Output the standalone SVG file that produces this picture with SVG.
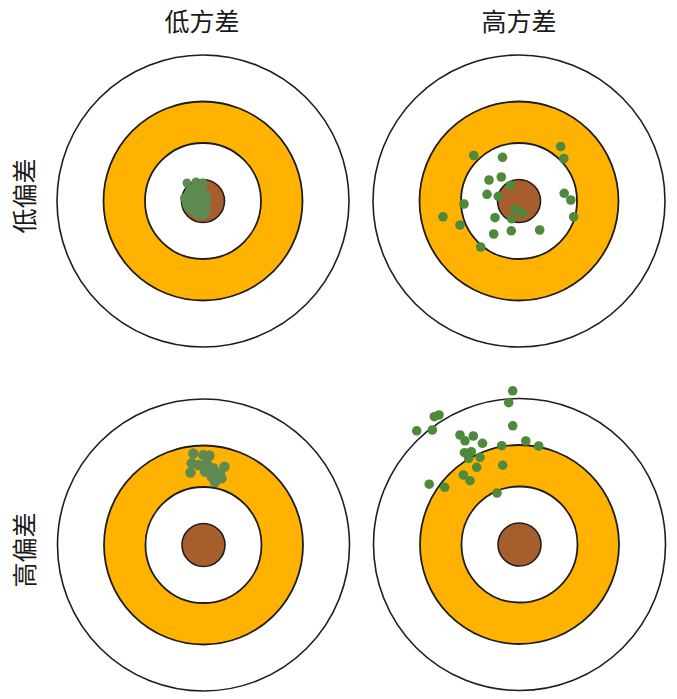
<svg xmlns="http://www.w3.org/2000/svg" xmlns:xlink="http://www.w3.org/1999/xlink" width="677" height="699" viewBox="0 0 677 699">
<style>
.bg{fill:#ffffff}
.outer{fill:#ffffff;stroke:#1e1e1e;stroke-width:1.6}
.ring{fill:#FFB300;stroke:#1e1e1e;stroke-width:1.8}
.inner{fill:#ffffff;stroke:#1e1e1e;stroke-width:1.8}
.bull{fill:#A85E2C;stroke:#1e1e1e;stroke-width:1.6}
.dot circle{fill:#4F8A3C;r:4.8px}
.blob{fill:#5E8A52}
.lbl{font-family:"Noto Sans CJK SC","Noto Sans CJK JP",sans-serif;font-size:25px;fill:#1a1a1a;text-anchor:middle}
</style>
<defs>
<g id="target">
<circle class="outer" cx="0" cy="0" r="146"/>
<circle class="ring" cx="0" cy="0" r="99.5"/>
<circle class="inner" cx="0" cy="0" r="58"/>
<circle class="bull" cx="0" cy="0" r="21.5"/>
</g>
</defs>
<rect class="bg" x="0" y="0" width="677" height="699"/>

<g id="labels">
<text class="lbl" x="202" y="31">低方差</text>
<text class="lbl" x="519" y="31">高方差</text>
<text class="lbl" transform="translate(34,196) rotate(-90)">低偏差</text>
<text class="lbl" transform="translate(34,550) rotate(-90)">高偏差</text>
</g>

<g id="target-low-bias-low-var">
<use xlink:href="#target" x="203" y="201"/>
<g class="blob">
<circle cx="196" cy="195" r="12"/>
<circle cx="193" cy="203" r="11"/>
<circle cx="200" cy="208" r="11"/>
<circle cx="200" cy="198" r="11"/>
<circle cx="187" cy="183" r="4.5"/>
<circle cx="196" cy="182" r="4.5"/>
<circle cx="203" cy="183" r="4.5"/>
<circle cx="185" cy="198" r="5"/>
<circle cx="203" cy="214" r="6"/>
</g>
</g>

<g id="target-low-bias-high-var">
<use xlink:href="#target" x="519" y="201"/>
<g class="dot">
<circle cx="560.7" cy="146.5" r="4.8"/>
<circle cx="563.8" cy="158.5" r="4.8"/>
<circle cx="473.7" cy="155.5" r="4.8"/>
<circle cx="502.5" cy="157.3" r="4.8"/>
<circle cx="489" cy="180" r="4.8"/>
<circle cx="501.3" cy="177" r="4.8"/>
<circle cx="510.5" cy="185.5" r="4.8"/>
<circle cx="487" cy="194.3" r="4.8"/>
<circle cx="498.3" cy="196.3" r="4.8"/>
<circle cx="464" cy="204" r="4.8"/>
<circle cx="443" cy="216.8" r="4.8"/>
<circle cx="460" cy="225" r="4.8"/>
<circle cx="495" cy="217.7" r="4.8"/>
<circle cx="511.7" cy="218.8" r="4.8"/>
<circle cx="515" cy="208.7" r="4.8"/>
<circle cx="522" cy="213" r="4.8"/>
<circle cx="493.7" cy="234" r="4.8"/>
<circle cx="511.3" cy="230.8" r="4.8"/>
<circle cx="539.7" cy="230" r="4.8"/>
<circle cx="480.7" cy="247" r="4.8"/>
<circle cx="564.2" cy="193.3" r="4.8"/>
<circle cx="570.8" cy="200" r="4.8"/>
<circle cx="573.7" cy="216.8" r="4.8"/>
</g>
</g>

<g id="target-high-bias-low-var">
<use xlink:href="#target" x="203.5" y="545"/>
<g class="blob">
<circle cx="193.3" cy="453.5" r="5.2"/>
<circle cx="191.7" cy="463.3" r="5.2"/>
<circle cx="190.5" cy="472.5" r="5.2"/>
<circle cx="203.3" cy="455" r="5.2"/>
<circle cx="209.5" cy="455.5" r="5.2"/>
<circle cx="206.7" cy="463.3" r="5.2"/>
<circle cx="198.3" cy="465" r="5.2"/>
<circle cx="205" cy="471.5" r="5.2"/>
<circle cx="213.3" cy="468.3" r="5.2"/>
<circle cx="224.5" cy="466.7" r="5.2"/>
<circle cx="220" cy="473.3" r="5.2"/>
<circle cx="211.7" cy="476.7" r="5.2"/>
<circle cx="215" cy="482" r="5.2"/>
<circle cx="221.5" cy="478.3" r="5.2"/>
<circle cx="212" cy="472" r="5.2"/>
</g>
</g>

<g id="target-high-bias-high-var">
<use xlink:href="#target" x="519.5" y="544.5"/>
<g class="dot">
<circle cx="512.7" cy="390.8" r="4.8"/>
<circle cx="508.7" cy="402.7" r="4.8"/>
<circle cx="434.3" cy="416.7" r="4.8"/>
<circle cx="439" cy="415" r="4.8"/>
<circle cx="416.7" cy="430.8" r="4.8"/>
<circle cx="432.3" cy="430" r="4.8"/>
<circle cx="512.7" cy="425.8" r="4.8"/>
<circle cx="460" cy="435" r="4.8"/>
<circle cx="473.3" cy="436" r="4.8"/>
<circle cx="465" cy="440.8" r="4.8"/>
<circle cx="482.5" cy="443.3" r="4.8"/>
<circle cx="501.7" cy="445.7" r="4.8"/>
<circle cx="525.8" cy="441" r="4.8"/>
<circle cx="538.7" cy="446" r="4.8"/>
<circle cx="464.5" cy="452.7" r="4.8"/>
<circle cx="471.3" cy="451.7" r="4.8"/>
<circle cx="468.7" cy="458.3" r="4.8"/>
<circle cx="480" cy="457.3" r="4.8"/>
<circle cx="476.7" cy="467.3" r="4.8"/>
<circle cx="502.7" cy="465.2" r="4.8"/>
<circle cx="463.3" cy="475" r="4.8"/>
<circle cx="470" cy="480.7" r="4.8"/>
<circle cx="429.2" cy="484.2" r="4.8"/>
<circle cx="444.7" cy="487.3" r="4.8"/>
<circle cx="497" cy="493" r="4.8"/>
</g>
</g>
</svg>
